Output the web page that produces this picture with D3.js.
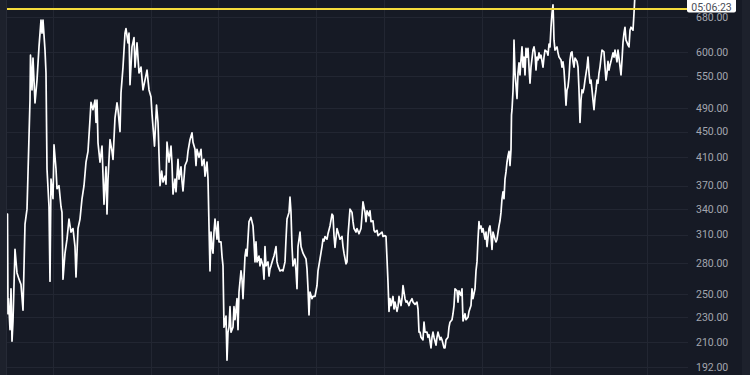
<!DOCTYPE html>
<html>
<head>
<meta charset="utf-8">
<script src="https://cdn.jsdelivr.net/npm/d3@7"></script>
<style>
  html, body { margin: 0; padding: 0; background: #161a25; overflow: hidden; }
  svg { display: block; }
</style>
</head>
<body>
<svg width="750" height="375"></svg>
<script>
// Bar number (time) and close price
const bars = [0, 0.5, 1, 1.5, 3, 4, 5, 6, 8, 10, 12, 14, 16, 18, 20, 21, 23, 23.5, 25, 26, 28, 30, 32, 34, 35, 36, 38, 39, 40, 42, 43, 44, 46, 47, 49, 50, 52, 54, 55, 56, 58, 60, 62, 64, 66, 68, 69, 71, 73, 75, 77, 79, 81, 83, 84, 86, 88, 89, 90, 91, 93, 95, 97, 99, 100, 101, 103, 105, 106, 108, 110, 111, 113, 114, 116, 118, 119, 121, 122, 123, 125, 127, 128, 130, 132, 134, 136, 138, 140, 142, 144, 145, 147.5, 149.5, 151, 153, 154.7, 156, 158, 159, 160, 162, 164, 165, 166, 168, 169, 171, 172, 174, 175, 176, 178, 180, 181, 183, 185, 186, 188, 189, 190, 192, 194, 195, 197, 198, 200, 201, 202, 203, 204, 205, 206, 207, 208, 210, 211, 212, 214, 215, 216, 217, 219, 220, 221, 222, 223, 224, 226, 227, 228, 230, 231, 232, 234, 235, 236, 238, 239, 240, 242, 244, 246, 247, 248, 249, 250, 252, 253, 254, 256, 257, 258, 259, 261, 262, 263, 264, 266, 267, 269, 270, 271, 273, 275, 276, 278, 279, 280, 282, 283, 284, 285, 286, 288, 289, 290, 291, 293, 294, 296, 297, 299, 300, 301, 302, 303, 305, 306, 308, 310, 311, 313, 315, 316, 317, 318, 320, 321, 323, 325, 326, 327, 328, 330, 331, 333, 335, 336, 337, 339, 340, 341, 343, 345, 346, 347, 349, 350, 352, 354, 355, 356, 358, 359, 360, 362, 363, 364, 366, 367, 368, 370, 371, 373, 375, 376, 378, 379, 380, 381, 382, 383, 384, 386, 387, 388, 390, 391, 392, 394, 395, 396, 398, 399, 400, 402, 403, 405, 406, 408, 410, 411, 412, 413, 414, 416, 417, 418, 420, 421, 422, 424, 425, 426, 427, 429, 430, 431, 433, 434, 435, 437, 438, 439, 441, 442, 443, 445, 446, 447, 448, 450, 451, 452, 454, 455, 456, 458, 459, 461, 462, 464, 465, 466, 468, 469, 470, 471, 472, 472.5, 474, 475, 476, 478, 479, 480, 482, 483, 484, 485, 486, 488, 489, 490, 492, 493, 494, 495, 496, 497, 498, 499, 500, 501, 502, 503, 504, 504.5, 505, 506, 506.5, 507, 508, 510, 511, 512, 513, 514, 515, 516, 517, 518, 519, 520, 521, 522, 523, 524, 526, 527, 528, 529, 530, 531, 532, 533, 534, 536, 537, 538, 540, 541, 542, 543, 544, 545, 546, 546.5, 547, 548, 550, 551, 552, 554, 555, 556, 557, 558, 559, 560, 561, 562, 563, 564, 565, 566, 567, 568, 570, 571, 572, 573, 574, 575, 576, 577, 578, 580, 581, 582, 583, 584, 585, 586, 587, 588, 589, 590, 591, 592, 593, 594, 595, 597, 598, 599, 600, 601, 602, 603, 604, 606, 607, 608, 610, 611, 612, 614, 615, 616, 617, 618, 619, 620, 621, 622, 623, 624, 626, 627, 628];

const prices = [255, 334, 233, 246, 220, 255, 211, 227, 294, 270, 264, 259, 236, 322, 340, 387, 504, 593, 523, 587, 499, 542, 611, 673, 642, 673, 604, 556, 393, 343, 262, 379, 353, 429, 393, 366, 370, 343, 336, 264, 290, 305, 328, 313, 317, 297, 266, 317, 328, 353, 370, 403, 419, 470, 500, 487, 504, 465, 504, 432, 403, 427, 346, 396, 334, 379, 437, 419, 407, 473, 499, 487, 450, 518, 568, 642, 653, 620, 642, 533, 611, 632, 568, 620, 556, 568, 523, 542, 562, 523, 510, 480, 427, 495, 465, 370, 390, 375, 383, 372, 433, 403, 427, 400, 359, 379, 362, 407, 379, 396, 376, 363, 398, 405, 419, 437, 448, 433, 422, 398, 422, 410, 422, 398, 407, 383, 403, 379, 320, 272, 313, 297, 290, 313, 328, 305, 325, 302, 302, 287, 277, 222, 231, 197, 218, 222, 239, 218, 222, 239, 228, 246, 220, 252, 272, 264, 246, 287, 294, 287, 325, 330, 320, 302, 281, 302, 281, 287, 277, 284, 277, 264, 297, 277, 281, 267, 274, 277, 284, 287, 297, 281, 277, 272, 273, 272, 281, 305, 328, 336, 355, 336, 297, 277, 284, 272, 255, 297, 313, 297, 290, 288, 284, 274, 255, 232, 252, 246, 248, 248, 258, 272, 284, 297, 305, 303, 308, 305, 311, 320, 334, 332, 309, 296, 317, 313, 305, 308, 297, 290, 279, 281, 309, 340, 336, 325, 317, 313, 317, 311, 317, 332, 349, 336, 325, 338, 332, 338, 325, 326, 315, 313, 315, 309, 311, 313, 308, 309, 308, 284, 261, 235, 246, 240, 248, 237, 243, 235, 239, 248, 240, 246, 258, 246, 243, 244, 240, 243, 246, 243, 241, 243, 237, 218, 218, 214, 212, 226, 218, 218, 214, 216, 206, 214, 218, 214, 208, 214, 218, 212, 214, 212, 206, 206, 212, 214, 222, 226, 228, 233, 240, 255, 253, 243, 253, 249, 255, 227, 233, 228, 230, 235, 240, 255, 246, 255, 272, 281, 305, 325, 317, 320, 313, 317, 305, 313, 297, 317, 320, 309, 294, 313, 305, 302, 305, 320, 326, 336, 353, 362, 353, 379, 389, 403, 412, 419, 398, 422, 478, 487, 521, 557, 626, 557, 507, 556, 577, 552, 583, 611, 568, 589, 552, 608, 589, 608, 568, 536, 568, 604, 611, 598, 562, 589, 583, 598, 587, 593, 568, 589, 604, 600, 593, 617, 611, 656, 690, 711, 673, 626, 604, 611, 598, 589, 583, 568, 579, 562, 531, 495, 523, 529, 548, 583, 598, 600, 580, 568, 587, 580, 568, 523, 465, 504, 523, 518, 527, 542, 568, 589, 556, 536, 542, 523, 504, 487, 509, 523, 542, 536, 556, 568, 587, 604, 600, 568, 542, 556, 580, 562, 572, 580, 598, 589, 604, 579, 604, 587, 552, 583, 621, 642, 656, 626, 621, 615, 611, 649, 656, 649, 690, 740];

// Right axis ticks (log scale)
const priceTicks = [680, 600, 550, 490, 450, 410, 370, 340, 310, 280, 250, 230, 210, 192];
// Vertical time grid positions (bar numbers)
const timeGrid = [46, 144, 211, 309, 377, 475, 543, 640];
// Horizontal marker line and its label
const markerPrice = 700.4;
const markerLabel = ["700.40", "05:06:23"];

const svg = d3.select("svg");
const width = 750, height = 375;
const plotLeft = 7, plotRight = 688;

const x = d3.scaleLinear().domain([0, 681]).range([plotLeft, plotRight]);
const y = d3.scaleLog().domain([192, 680]).range([367.3, 17.3]);

// side strips
svg.append("rect").attr("x", 0).attr("y", 0).attr("width", plotLeft).attr("height", height).attr("fill", "#1d212c");
svg.append("line").attr("x1", plotLeft - 0.5).attr("x2", plotLeft - 0.5).attr("y1", 0).attr("y2", height)
  .attr("stroke", "#262a36");
svg.append("rect").attr("x", 742).attr("y", 0).attr("width", 8).attr("height", height).attr("fill", "#1d212c");

// grid
const grid = svg.append("g").attr("stroke", "#222632").attr("stroke-width", 1);
grid.selectAll(".h").data(priceTicks).join("line")
  .attr("x1", plotLeft).attr("x2", plotRight)
  .attr("y1", d => Math.round(y(d)) + 0.5).attr("y2", d => Math.round(y(d)) + 0.5);
grid.selectAll(".v").data(timeGrid).join("line")
  .attr("x1", d => Math.round(x(d)) + 0.5).attr("x2", d => Math.round(x(d)) + 0.5)
  .attr("y1", 0).attr("y2", height);

// axis labels
svg.append("g").selectAll("text").data(priceTicks).join("text")
  .attr("x", 696).attr("y", d => y(d)).attr("dy", "0.35em")
  .attr("fill", "#a3a6af").attr("font-family", "Roboto, sans-serif").attr("font-size", "10.5px")
  .text(d => d3.format(".2f")(d));

// clip
svg.append("clipPath").attr("id", "plot").append("rect")
  .attr("x", plotLeft).attr("y", 0).attr("width", plotRight - plotLeft).attr("height", height);

const series = bars.map((b, i) => ({ t: b, p: prices[i] }));
const line = d3.line().x(d => x(d.t)).y(d => y(d.p));

svg.append("path").datum(series)
  .attr("clip-path", "url(#plot)")
  .attr("fill", "none").attr("stroke", "#ffffff").attr("stroke-width", 1.7)
  .attr("stroke-linejoin", "round").attr("d", line);

// marker line
svg.append("line")
  .attr("x1", plotLeft).attr("x2", plotRight)
  .attr("y1", y(markerPrice)).attr("y2", y(markerPrice))
  .attr("stroke", "#f5dc3c").attr("stroke-width", 2);

// marker label (top row is cut by the window edge, as in the original)
const lab = svg.append("g");
lab.append("rect").attr("x", 687).attr("y", -10).attr("width", 49).attr("height", 22.5).attr("rx", 2)
  .attr("fill", "#ffffff");
lab.selectAll("text").data(markerLabel).join("text")
  .attr("x", 711.5).attr("y", (d, i) => -1.5 + i * 12.2)
  .attr("text-anchor", "middle")
  .attr("fill", "#4a4d57").attr("font-family", "Roboto, sans-serif").attr("font-size", "10.5px")
  .text(d => d);
</script>
</body>
</html>
